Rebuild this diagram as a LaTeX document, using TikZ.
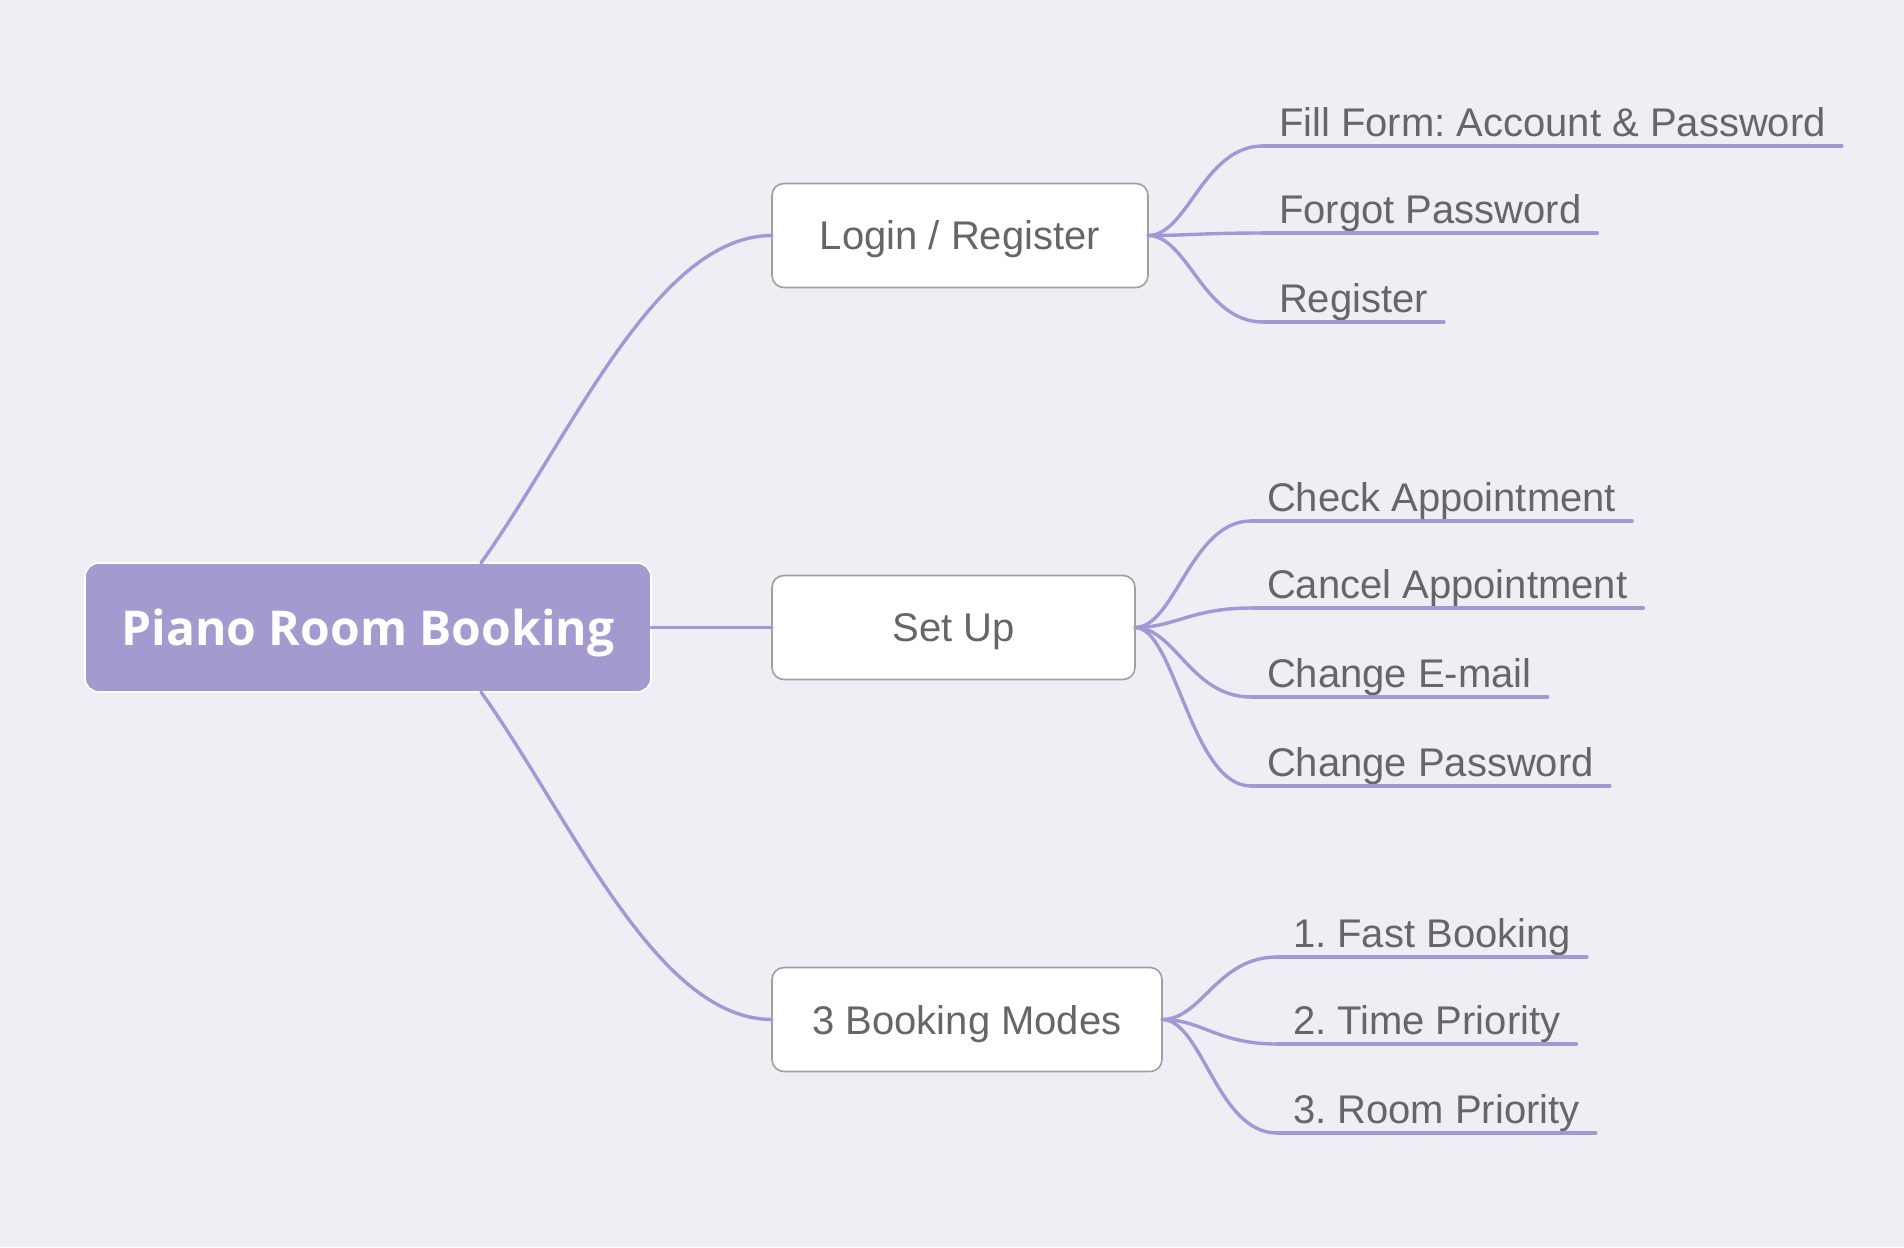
\documentclass[tikz,border=0pt]{standalone}
\usepackage{fontspec}
\setmainfont{Liberation Sans}
\newfontfamily\rootfont{Open Sans}
\definecolor{bgc}{HTML}{EFEEF4}
\definecolor{lav}{HTML}{A59ACF}
\definecolor{linec}{HTML}{A397D5}
\definecolor{txtc}{HTML}{666666}
\definecolor{boxline}{HTML}{A0A0A0}
\begin{document}
\frenchspacing
\begin{tikzpicture}[x=0.5pt,y=-0.5pt,
  conn/.style={draw=linec, line width=1.7pt, line cap=round},
  rootbox/.style={draw=white, fill=lav, line width=0.8pt, rounded corners=7pt,
    minimum width=283pt, minimum height=64.5pt, text=white, text depth=0pt,
    font=\rootfont\bfseries\fontsize{24}{28}\selectfont, outer sep=0pt},
  topic/.style={draw=boxline, fill=white, line width=0.8pt, rounded corners=6pt,
    minimum height=52pt, text=txtc, text depth=0pt, font=\fontsize{20}{24}\selectfont,
    anchor=west, outer sep=0pt},
  leaf/.style={anchor=south west, inner xsep=8pt, inner ysep=5pt, text depth=0pt,
    text=txtc, font=\fontsize{20}{24}\selectfont, outer sep=0pt},
]
\fill[bgc] (0,0) rectangle (1904,1247);
\useasboundingbox (0,0) rectangle (1904,1247);

\node[rootbox] (root) at (368,627.5) {Piano Room Booking};
\node[topic, minimum width=188pt] (login) at (772,235.5) {Login / Register};
\node[topic, minimum width=181.5pt] (setup) at (772,627.5) {Set Up};
\node[topic, minimum width=195pt] (modes) at (772,1019.5) {3 Booking Modes};

\node[leaf] (l1) at (1263,146) {Fill Form: Account \& Password};
\node[leaf] (l2) at (1263,233) {Forgot Password};
\node[leaf] (l3) at (1263,322) {Register};
\node[leaf] (s1) at (1251,521) {Check Appointment};
\node[leaf] (s2) at (1251,608) {Cancel Appointment};
\node[leaf] (s3) at (1251,697) {Change E-mail};
\node[leaf] (s4) at (1251,786) {Change Password};
\node[leaf] (b1) at (1277,957) {1. Fast Booking};
\node[leaf] (b2) at (1277,1044) {2. Time Priority};
\node[leaf] (b3) at (1277,1133) {3. Room Priority};

\draw[conn] ([xshift=56.5pt]root.north) .. controls +(90,-126) and +(-116,0) .. (login.west);
\draw[conn] (root.east) -- (setup.west);
\draw[conn] ([xshift=56.5pt]root.south) .. controls +(90,126) and +(-116,0) .. (modes.west);

\foreach \n in {l1,l2,l3,s1,s2,s3,s4,b1,b2,b3}
  \draw[conn] (\n.south west) -- (\n.south east);

\foreach \p/\c in {login/l1,login/l2,login/l3,setup/s1,setup/s2,setup/s3,setup/s4,modes/b1,modes/b2,modes/b3}
  \draw[conn] (\p.east) .. controls +(40,0) and +(-60,0) .. (\c.south west);
\end{tikzpicture}
\end{document}
